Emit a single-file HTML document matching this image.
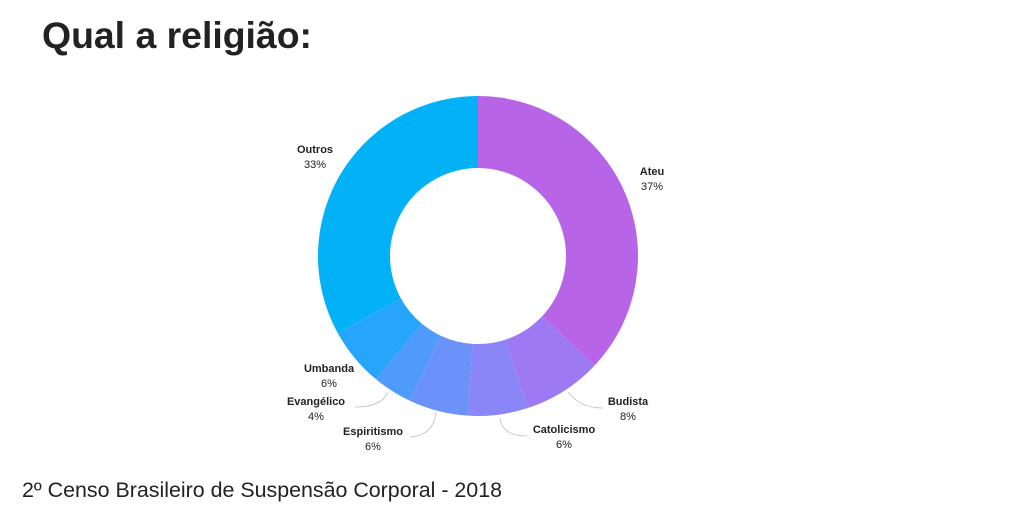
<!DOCTYPE html>
<html><head><meta charset="utf-8"><style>
body{margin:0;width:1024px;height:512px;background:#fff;overflow:hidden;font-family:"Liberation Sans",sans-serif;}
</style></head><body>
<svg width="1024" height="512" xmlns="http://www.w3.org/2000/svg" font-family="Liberation Sans, sans-serif">
<text x="42" y="48" font-size="37" font-weight="bold" fill="#222" textLength="270" lengthAdjust="spacingAndGlyphs">Qual a religião:</text>
<g id="pie"></g>
<g fill="none" stroke="#c8c8c8" stroke-width="1">
<path d="M568,392 Q580,408 603,408"/>
<path d="M500,418 Q502,436 527,436"/>
<path d="M436,412 Q434,435 410,437"/>
<path d="M388,392 Q382,407 355,407"/>
</g>
<g font-size="11" fill="#222" text-anchor="middle">
<text x="652" y="175" font-weight="bold">Ateu</text><text x="652" y="190">37%</text>
<text x="315" y="153" font-weight="bold">Outros</text><text x="315" y="168">33%</text>
<text x="628" y="405" font-weight="bold">Budista</text><text x="628" y="420">8%</text>
<text x="564" y="433" font-weight="bold">Catolicismo</text><text x="564" y="448">6%</text>
<text x="373" y="435" font-weight="bold">Espiritismo</text><text x="373" y="450">6%</text>
<text x="316" y="405" font-weight="bold">Evangélico</text><text x="316" y="420">4%</text>
<text x="329" y="372" font-weight="bold">Umbanda</text><text x="329" y="387">6%</text>
</g>
<text x="22" y="497" font-size="21" fill="#222" textLength="480" lengthAdjust="spacingAndGlyphs">2º Censo Brasileiro de Suspensão Corporal - 2018</text>
</svg>
<script>
var cx=478,cy=256,R=160,r=88;
var d=[[37,"#b764e6"],[8,"#9d79f4"],[6,"#8b86f7"],[6,"#6b92f9"],[4,"#4f9bfb"],[6,"#27a5fb"],[33,"#03b1f7"]];
var a=0,g=document.getElementById("pie"),s="";
function p(ang,rad){var t=ang*Math.PI/180;return (cx+rad*Math.sin(t)).toFixed(2)+","+(cy-rad*Math.cos(t)).toFixed(2);}
d.forEach(function(e){var b=a+e[0]*3.6,l=(b-a)>180?1:0;
s+='<path fill="'+e[1]+'" d="M'+p(a,R)+' A'+R+','+R+' 0 '+l+' 1 '+p(b,R)+' L'+p(b,r)+' A'+r+','+r+' 0 '+l+' 0 '+p(a,r)+' Z"/>';a=b;});
g.innerHTML=s;
</script>
</body></html>
